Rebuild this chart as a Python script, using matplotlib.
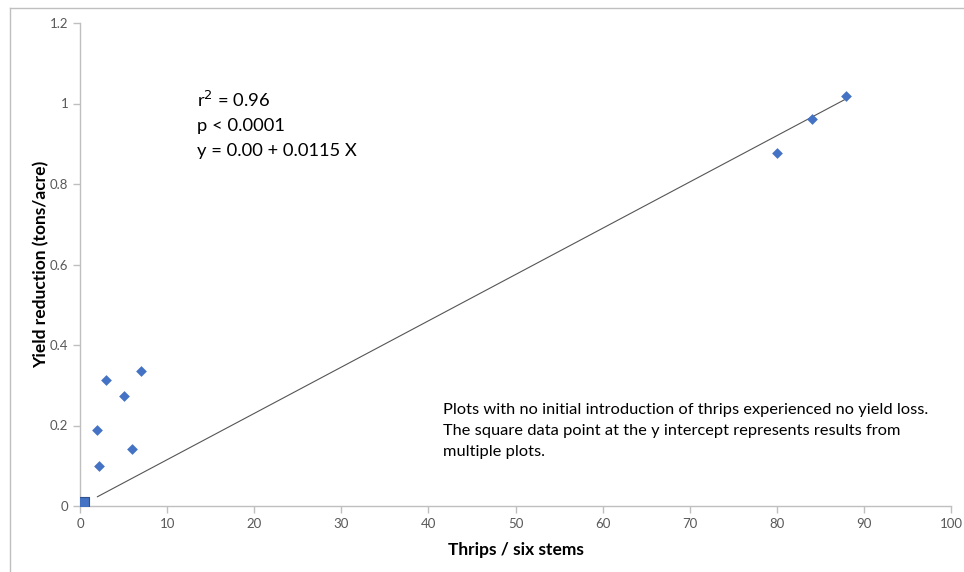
import numpy as np
import matplotlib.pyplot as plt
from matplotlib.lines import Line2D

plt.rcParams['font.family'] = ['Lato', 'DejaVu Sans']

# data
thrips = [2.2, 2.0, 3.0, 5.0, 6.0, 7.0, 80.0, 84.0, 88.0]
yield_red = [0.100, 0.190, 0.313, 0.274, 0.142, 0.335, 0.876, 0.962, 1.018]
sq_x = [0.5]
sq_y = [0.01]
fit_x = [2.0, 88.0]
intercept = 0.0
slope = 0.0115

xticks = np.arange(0, 101, 10)
yticks = [0, 0.2, 0.4, 0.6, 0.8, 1, 1.2]

fig = plt.figure(figsize=(9.64, 5.72), dpi=100)
ax = fig.add_axes([80/964, 1-506/572, (951-80)/964, (506-23)/572])

fx = np.array(fit_x)
ax.plot(fx, intercept + slope*fx, color='#555555', lw=0.8)
ax.scatter(thrips, yield_red, marker='D', s=30, color='#4472C4', zorder=3, linewidths=0)
ax.scatter(sq_x, sq_y, marker='s', s=45, color='#4472C4', edgecolors='#2F528F', linewidths=0.8, zorder=3)

ax.set_xlim(0, 100)
ax.set_ylim(0, 1.2)
ax.set_xticks(xticks)
ax.set_yticks(yticks)
ax.set_yticklabels(['0', '0.2', '0.4', '0.6', '0.8', '1', '1.2'])
for s in ['top', 'right']:
    ax.spines[s].set_visible(False)
for s in ['left', 'bottom']:
    ax.spines[s].set_color('#BFBFBF')
    ax.spines[s].set_linewidth(1)
ax.tick_params(colors='#BFBFBF', labelcolor='#595959', labelsize=9.5, length=5, width=1)
ax.tick_params(axis='x', pad=4)

ax.set_xlabel('Thrips / six stems', fontsize=12.5, fontweight='bold', labelpad=8)
ax.set_ylabel('Yield reduction (tons/acre)', fontsize=12.5, fontweight='bold', labelpad=0)

ax.text(197/964, 1-100/572, 'r$^2$ = 0.96', transform=fig.transFigure, fontsize=13.2, va='center')
ax.text(197/964, 1-126/572, 'p < 0.0001', transform=fig.transFigure, fontsize=13.2, va='center')
ax.text(197/964, 1-151/572, 'y = 0.00 + 0.0115 X', transform=fig.transFigure, fontsize=13.2, va='center')

note = ['Plots with no initial introduction of thrips experienced no yield loss.',
        'The square data point at the y intercept represents results from',
        'multiple plots.']
for i, t in enumerate(note):
    ax.text(443/964, 1-(410 + 21*i)/572, t, transform=fig.transFigure, fontsize=11.8, va='center')

# chart area border
fig.add_artist(Line2D([10/964, 10/964], [0, 1-8/572], transform=fig.transFigure, color='#BFBFBF', lw=1))
fig.add_artist(Line2D([10/964, 1], [1-8/572, 1-8/572], transform=fig.transFigure, color='#BFBFBF', lw=1))

fig.savefig('out.png', dpi=100)
